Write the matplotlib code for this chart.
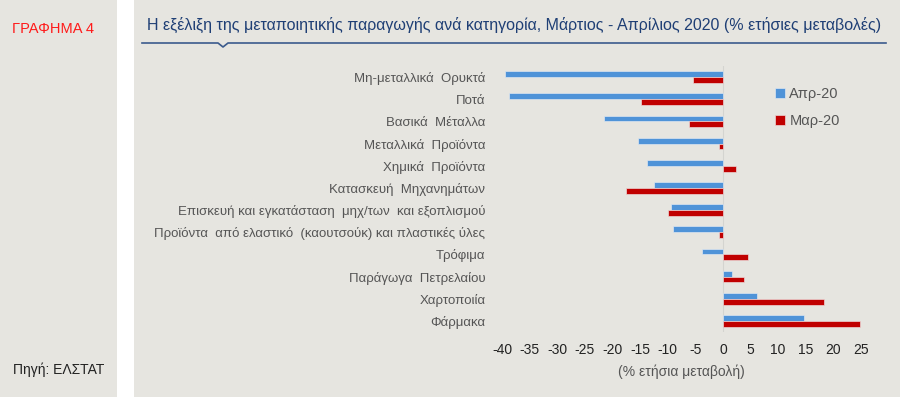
import matplotlib.pyplot as plt
from matplotlib.patches import Rectangle
from matplotlib.lines import Line2D
from matplotlib import font_manager

plt.rcParams['font.family'] = ['Liberation Sans', 'DejaVu Sans']

categories = [
    'Μη-μεταλλικά  Ορυκτά',
    'Ποτά',
    'Βασικά  Μέταλλα',
    'Μεταλλικά  Προϊόντα',
    'Χημικά  Προϊόντα',
    'Κατασκευή  Μηχανημάτων',
    'Επισκευή και εγκατάσταση  μηχ/των  και εξοπλισμού',
    'Προϊόντα  από ελαστικό  (καουτσούκ) και πλαστικές ύλες',
    'Τρόφιμα',
    'Παράγωγα  Πετρελαίου',
    'Χαρτοποιία',
    'Φάρμακα',
]
apr20 = [-39.4, -38.8, -21.6, -15.3, -13.8, -12.4, -9.4, -9.1, -3.7, 1.6, 6.2, 14.7]
mar20 = [-5.4, -14.9, -6.1, -0.7, 2.4, -17.5, -10.0, -0.8, 4.5, 3.8, 18.3, 24.9]
xticks = [-40, -35, -30, -25, -20, -15, -10, -5, 0, 5, 10, 15, 20, 25]

bg = '#e6e5e0'
blue = '#4f93d8'
red = '#c00000'

fig = plt.figure(figsize=(9, 3.97), dpi=100)
fig.patch.set_facecolor('white')

# two grey panels with a white gap
fig.add_artist(Rectangle((0, 0), 117 / 900, 1, transform=fig.transFigure,
                         facecolor=bg, edgecolor='none', zorder=0))
fig.add_artist(Rectangle((134 / 900, 0), 1 - 134 / 900, 1, transform=fig.transFigure,
                         facecolor=bg, edgecolor='none', zorder=0))

fig.text(12 / 900, 1 - 29 / 397, 'ΓΡΑΦΗΜΑ 4', color='#ff1a1a', fontsize=10.5, va='center')
fig.text(13 / 900, 1 - 370 / 397, 'Πηγή: ΕΛΣΤΑΤ', color='#222222', fontsize=10, va='center')

# narrow title font if there is one, else shrink to fit
names = {f.name for f in font_manager.fontManager.ttflist}
title_fam = ['Liberation Sans Narrow'] if 'Liberation Sans Narrow' in names else ['Liberation Sans']
title = fig.text(147 / 900, 1 - 25 / 397,
                 'Η εξέλιξη της μεταποιητικής παραγωγής ανά κατηγορία, Μάρτιος - Απρίλιος 2020 (% ετήσιες μεταβολές)',
                 family=title_fam + ['DejaVu Sans'], color='#1f3f75', fontsize=13, va='center')
renderer = fig.canvas.get_renderer()
size = 13
while title.get_window_extent(renderer).width > 742 and size > 8:
    size -= 0.25
    title.set_fontsize(size)

# underline with small notch
ly = 1 - 43 / 397
nx = 223 / 900
fig.add_artist(Line2D([142 / 900, nx - 5 / 900, nx, nx + 5 / 900, 886 / 900],
                      [ly, ly, ly - 4 / 397, ly, ly],
                      transform=fig.transFigure, color='#3b5a8c', linewidth=1.2))

ax = fig.add_axes([502 / 900, 1 - 332 / 397, (861 - 502) / 900, (332 - 66) / 397])
ax.set_facecolor('none')

y = list(range(len(categories)))
h = 0.26
ax.barh([i - h / 2 for i in y], apr20, height=h, color=blue, edgecolor='#dde6f0',
        linewidth=0.5, label='Απρ-20')
ax.barh([i + h / 2 for i in y], mar20, height=h, color=red, edgecolor='#ecd6d6',
        linewidth=0.5, label='Μαρ-20')
ax.axvline(0, color='#d4d4d0', linewidth=0.8, zorder=0)

ax.set_xlim(-40, 25)
ax.set_ylim(len(categories) - 0.5, -0.5)
ax.set_yticks(y)
ax.set_yticklabels(categories, fontsize=9.5, color='#555555')
ax.set_xticks(xticks)
ax.set_xticklabels([str(t) for t in xticks], fontsize=10, color='#222222')
ax.tick_params(axis='y', length=0, pad=12)
ax.tick_params(axis='x', length=0, pad=8)
for s in ax.spines.values():
    s.set_visible(False)
ax.set_xlabel('(% ετήσια μεταβολή)', fontsize=10, color='#555555', labelpad=5)

leg = ax.legend(loc='upper left', bbox_to_anchor=(0.725, 0.97), frameon=False,
                fontsize=10.5, handlelength=0.65, handleheight=0.65, handletextpad=0.3,
                labelspacing=0.9)
for t in leg.get_texts():
    t.set_color('#555555')

plt.savefig('out.png', dpi=100, facecolor=fig.get_facecolor())
